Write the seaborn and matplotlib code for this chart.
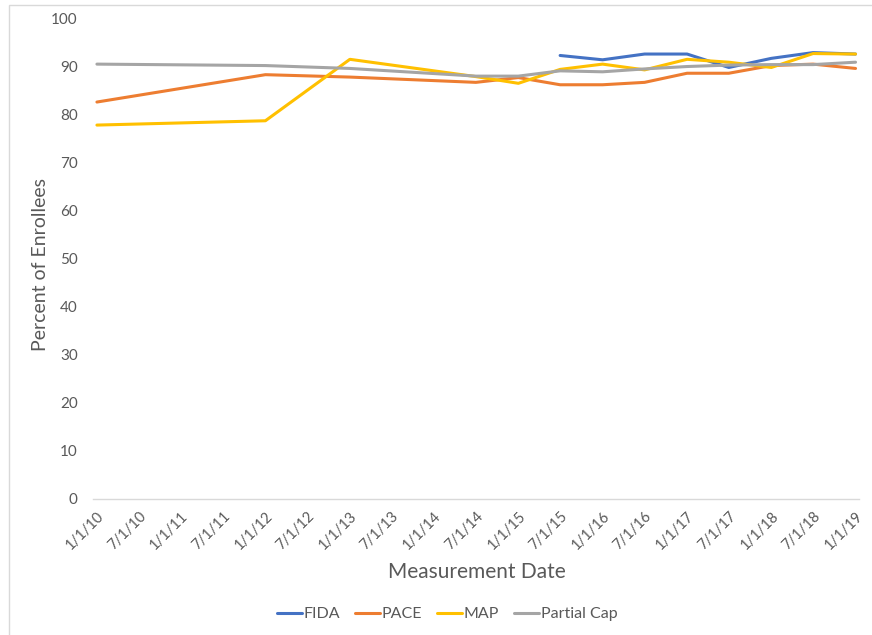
import pandas as pd
import numpy as np
import matplotlib
matplotlib.use('Agg')
import matplotlib.pyplot as plt
import matplotlib.patches as patches
import seaborn as sns


dates = ['1/1/10', '1/1/12', '1/1/13', '7/1/14', '1/1/15', '7/1/15', '1/1/16',
         '7/1/16', '1/1/17', '7/1/17', '1/1/18', '7/1/18', '1/1/19']
fida = [None, None, None, None, None, 92.4, 91.5, 92.7, 92.7, 89.9, 91.8, 93.0, 92.7]
pace = [82.7, 88.4, 87.9, 86.8, 87.8, 86.3, 86.3, 86.8, 88.7, 88.7, 90.3, 90.6, 89.7]
map_ = [77.9, 78.8, 91.6, 88.0, 86.6, 89.5, 90.6, 89.4, 91.6, 91.0, 89.9, 92.8, 92.7]
partial_cap = [90.6, 90.3, 89.7, 88.1, 88.1, 89.2, 89.0, 89.6, 90.1, 90.4, 90.5, 90.5, 91.0]

series_names = ['FIDA', 'PACE', 'MAP', 'Partial Cap']
series_colors = ['#4472C4', '#ED7D31', '#FFC000', '#A5A5A5']

tick_labels = ['1/1/10', '7/1/10', '1/1/11', '7/1/11', '1/1/12', '7/1/12', '1/1/13',
               '7/1/13', '1/1/14', '7/1/14', '1/1/15', '7/1/15', '1/1/16', '7/1/16',
               '1/1/17', '7/1/17', '1/1/18', '7/1/18', '1/1/19']

rows = []
for name, vals in zip(series_names, [fida, pace, map_, partial_cap]):
    for d, v in zip(dates, vals):
        if v is not None:
            rows.append({'date': pd.to_datetime(d, format='%m/%d/%y'), 'value': v, 'series': name})
df = pd.DataFrame(rows)

sns.set_style('white')
plt.rcParams['font.family'] = ['Lato', 'DejaVu Sans']
text_color = '#595959'

fig = plt.figure(figsize=(8.72, 6.35), dpi=100)
ax = fig.add_axes([93 / 872, 136 / 635, 766 / 872, 480 / 635])

sns.lineplot(data=df, x='date', y='value', hue='series', hue_order=series_names,
             palette=series_colors, linewidth=2.2, sort=True, ax=ax)

tick_dates = pd.to_datetime(tick_labels, format='%m/%d/%y')
ax.set_xticks(tick_dates)
ax.set_xticklabels(tick_labels, rotation=45, ha='right', rotation_mode='anchor',
                   fontsize=10.5, color=text_color)
ax.set_xlim(tick_dates[0] - pd.Timedelta(days=17), tick_dates[-1] + pd.Timedelta(days=15))

ax.set_ylim(0, 100)
ax.set_yticks(range(0, 101, 10))
ax.set_yticklabels([str(v) for v in range(0, 101, 10)], fontsize=11, color=text_color)
ax.tick_params(axis='both', length=0)
ax.tick_params(axis='y', pad=11)
ax.tick_params(axis='x', pad=7)

for side in ['top', 'right', 'left']:
    ax.spines[side].set_visible(False)
ax.spines['bottom'].set_color('#D9D9D9')
ax.spines['bottom'].set_linewidth(1)

ax.set_xlabel('')
ax.set_ylabel('')
fig.text(40 / 872, 1 - 265 / 635, 'Percent of Enrollees', rotation=90, ha='center', va='center',
         fontsize=14, color=text_color)
fig.text(477 / 872, 1 - 572 / 635, 'Measurement Date', ha='center', va='center',
         fontsize=15, color=text_color)

handles, labels = ax.get_legend_handles_labels()
ax.get_legend().remove()
fig.legend(handles, labels, loc='center', bbox_to_anchor=(447 / 872, 1 - 614 / 635),
           ncol=4, frameon=False, fontsize=11.5, handlelength=1.6, handletextpad=0.1,
           columnspacing=0.9, labelcolor=text_color)

fig.patches.append(patches.Rectangle((9 / 872, -0.05), 1.0, 1.05 - 5 / 635, transform=fig.transFigure,
                                     fill=False, edgecolor='#D9D9D9', linewidth=1))

fig.savefig('out.png', dpi=100)
plt.close(fig)
